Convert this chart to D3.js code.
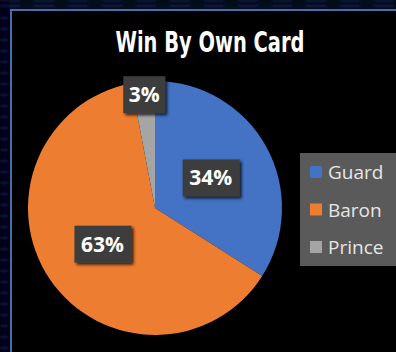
<!DOCTYPE html>
<html>
<head>
<meta charset="utf-8">
<script src="https://cdn.jsdelivr.net/npm/d3@7"></script>
<style>
	html, body { margin: 0; padding: 0; background: #000; }
	svg { display: block; }
</style>
</head>
<body>
<div id="chart"></div>
<script>
document.addEventListener("DOMContentLoaded", function(event) {

	var width = 396;
	var height = 352;

	// data
	var categories = ["Guard", "Baron", "Prince"];
	var shares = [34, 63, 3];
	var colours = ["#4472C4", "#ED7D31", "#A5A5A5"];
	var chartTitle = "Win By Own Card";

	var cx = 155, cy = 208, radius = 127;

	const svg = d3.select("#chart").append("svg")
		.attr("width", width)
		.attr("height", height);

	var defs = svg.append("defs");
	var blur = defs.append("filter").attr("id", "blur")
		.attr("x", "-20%").attr("y", "-50%").attr("width", "140%").attr("height", "200%");
	blur.append("feGaussianBlur").attr("stdDeviation", 1.6);

	var shadow = defs.append("filter").attr("id", "shadow")
		.attr("x", "-20%").attr("y", "-20%").attr("width", "150%").attr("height", "160%");
	shadow.append("feDropShadow")
		.attr("dx", 2).attr("dy", 2).attr("stdDeviation", 1.5)
		.attr("flood-color", "#000").attr("flood-opacity", 0.8);

	svg.append("rect").attr("width", width).attr("height", height).attr("fill", "#000");

	// blurry slide background behind the frame (top band + left strip)
	var bg = svg.append("g").attr("filter", "url(#blur)");
	bg.append("rect").attr("x", 0).attr("y", 0).attr("width", width).attr("height", 10).attr("fill", "#05081a");
	bg.append("rect").attr("x", 0).attr("y", 0).attr("width", 10).attr("height", height).attr("fill", "#04061a");
	[0, 6].forEach(function(y) {
		bg.append("line").attr("x1", 0).attr("x2", width).attr("y1", y).attr("y2", y)
			.attr("stroke", "#2a3a8a").attr("stroke-width", 1.2).attr("stroke-dasharray", "20 14")
			.attr("opacity", 0.7);
	});
	d3.range(18, height, 11).forEach(function(y) {
		bg.append("line").attr("x1", 0).attr("x2", 8).attr("y1", y).attr("y2", y)
			.attr("stroke", "#23306e").attr("stroke-width", 1.2).attr("opacity", 0.7);
	});

	// frame
	svg.append("path")
		.attr("d", "M11," + height + "V10H" + width)
		.attr("fill", "none")
		.attr("stroke", "#4c6ea8")
		.attr("stroke-width", 2);

	// title
	svg.append("text")
		.attr("x", 210)
		.attr("y", 52)
		.attr("text-anchor", "middle")
		.attr("textLength", 189)
		.attr("lengthAdjust", "spacingAndGlyphs")
		.style("font-family", "'DejaVu Sans Condensed', 'DejaVu Sans', sans-serif")
		.style("font-stretch", "condensed")
		.style("font-weight", "bold")
		.style("font-size", "28px")
		.attr("fill", "#fff")
		.text(chartTitle);

	// pie
	var rows = categories.map(function(c, i) { return { name: c, value: shares[i], colour: colours[i] }; });
	var pie = d3.pie().sort(null).value(d => d.value);
	var arc = d3.arc().innerRadius(0).outerRadius(radius);
	var arcs = pie(rows);

	var g = svg.append("g").attr("transform", "translate(" + cx + "," + cy + ")");

	g.selectAll("path.slice")
		.data(arcs)
		.enter().append("path")
		.attr("class", "slice")
		.attr("d", arc)
		.attr("fill", d => d.data.colour);

	// data labels: big slices inside, small slice pushed out to the rim
	var labelArc = function(d) {
		var r = d.data.value < 5 ? radius * 0.9 : radius * 0.5;
		return d3.arc().innerRadius(r).outerRadius(r).centroid(d);
	};

	var label = g.selectAll("g.label")
		.data(arcs)
		.enter().append("g")
		.attr("class", "label")
		.attr("transform", d => "translate(" + labelArc(d) + ")");

	label.append("rect")
		.attr("x", d => d.data.value < 10 ? -21 : -28)
		.attr("y", -18)
		.attr("width", d => d.data.value < 10 ? 42 : 57)
		.attr("height", 37)
		.attr("fill", "#3e3e3e")
		.attr("filter", "url(#shadow)");

	label.append("text")
		.attr("text-anchor", "middle")
		.attr("y", 8)
		.style("font-family", "'Open Sans', sans-serif")
		.style("font-weight", "bold")
		.style("font-size", "21px")
		.attr("fill", "#fff")
		.text(d => d.data.value + "%");

	// legend
	var legend = svg.append("g").attr("transform", "translate(300,153)");
	legend.append("rect")
		.attr("width", 100)
		.attr("height", 113)
		.attr("fill", "#5a5a5a");

	var item = legend.selectAll("g.item")
		.data(rows)
		.enter().append("g")
		.attr("class", "item")
		.attr("transform", (d, i) => "translate(0," + (19 + i * 37.5) + ")");

	item.append("rect")
		.attr("x", 10)
		.attr("y", -6)
		.attr("width", 12)
		.attr("height", 12)
		.attr("fill", d => d.colour);

	item.append("text")
		.attr("x", 28)
		.attr("y", 7)
		.style("font-family", "'Open Sans', sans-serif")
		.style("font-size", "19px")
		.attr("fill", "#e6e6e6")
		.text(d => d.name);
});
</script>
</body>
</html>
